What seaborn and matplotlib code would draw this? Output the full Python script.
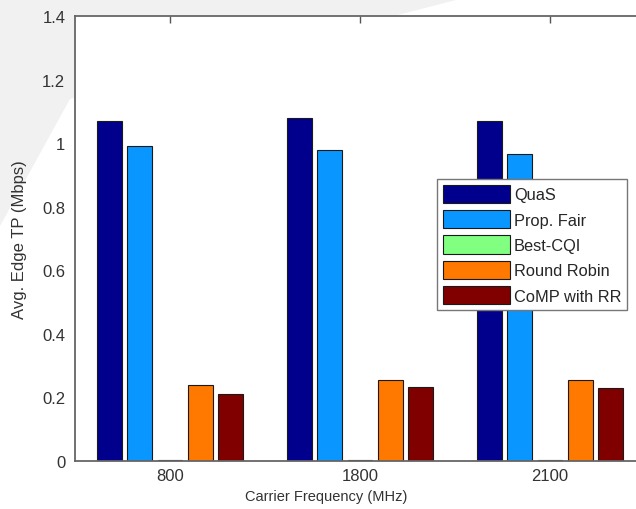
import numpy as np
import pandas as pd
import matplotlib
matplotlib.use('Agg')
import matplotlib.pyplot as plt
import seaborn as sns
from matplotlib.patches import Polygon

# values
freqs = ['800', '1800', '2100']
schemes = ['QuaS', 'Prop. Fair', 'Best-CQI', 'Round Robin', 'CoMP with RR']
quas = [1.07, 1.08, 1.07]
prop_fair = [0.99, 0.98, 0.965]
best_cqi = [0.004, 0.004, 0.004]
round_robin = [0.24, 0.255, 0.254]
comp_rr = [0.21, 0.232, 0.231]

colors = ['#00008C', '#0A96FF', '#80FF80', '#FF7800', '#800000']
y_ticks = [0, 0.2, 0.4, 0.6, 0.8, 1, 1.2, 1.4]
y_tick_labels = ['0', '0.2', '0.4', '0.6', '0.8', '1', '1.2', '1.4']

df = pd.DataFrame({
    'freq': freqs * len(schemes),
    'scheme': np.repeat(schemes, len(freqs)),
    'tp': quas + prop_fair + best_cqi + round_robin + comp_rr,
})

sns.set_style('white')
plt.rcParams['font.family'] = ['Liberation Sans', 'DejaVu Sans']

fig = plt.figure(figsize=(6.36, 5.10), dpi=100)

# faint grey slide decoration in the top-left corner (pixel coords -> figure fraction)
deco = np.array([[0, 0], [460, 0], [70, 100], [0, 227]], dtype=float)
deco[:, 0] /= 636
deco[:, 1] = 1 - deco[:, 1] / 510
fig.add_artist(Polygon(deco, closed=True, transform=fig.transFigure,
                       facecolor='#f1f1f1', edgecolor='none', zorder=-5))

# axes run past the right border, as in the cropped reference
ax = fig.add_axes([75 / 636, 48 / 510, 570 / 636, 445 / 510])
ax.set_facecolor('white')
ax.set_zorder(2)

sns.barplot(data=df, x='freq', y='tp', hue='scheme', order=freqs, hue_order=schemes,
            palette=colors, saturation=1, gap=0.18, errorbar=None,
            edgecolor='#1a1a1a', linewidth=0.8, ax=ax)

ax.set_xlim(-0.5, 2.5)
ax.set_ylim(0, 1.4)
ax.set_yticks(y_ticks)
ax.set_yticklabels(y_tick_labels)

for s in ax.spines.values():
    s.set_color('#666666')
    s.set_linewidth(1.3)
ax.spines['right'].set_visible(False)

ax.tick_params(direction='in', length=5, width=1, top=True, right=False,
               colors='#555555', labelcolor='#333333', labelsize=12)
ax.tick_params(axis='y', pad=7)
ax.tick_params(axis='x', pad=5)

ax.set_xlabel('Carrier Frequency (MHz)', fontsize=10.5, color='#333333')
ax.set_ylabel('Avg. Edge TP (Mbps)', fontsize=12, color='#333333')
ax.xaxis.set_label_coords(0.44, -0.062)
ax.yaxis.set_label_coords(-0.085, 0.50)

ax.legend(loc='upper left', bbox_to_anchor=(437 / 636, 1 - 180 / 510),
          bbox_transform=fig.transFigure, frameon=True, fancybox=False,
          framealpha=1, edgecolor='#777777', fontsize=11.8, title=None,
          handlelength=4.1, handleheight=1.35, labelspacing=0.42,
          handletextpad=0.25, borderpad=0.35, borderaxespad=0)

fig.savefig('out.png', dpi=100)
